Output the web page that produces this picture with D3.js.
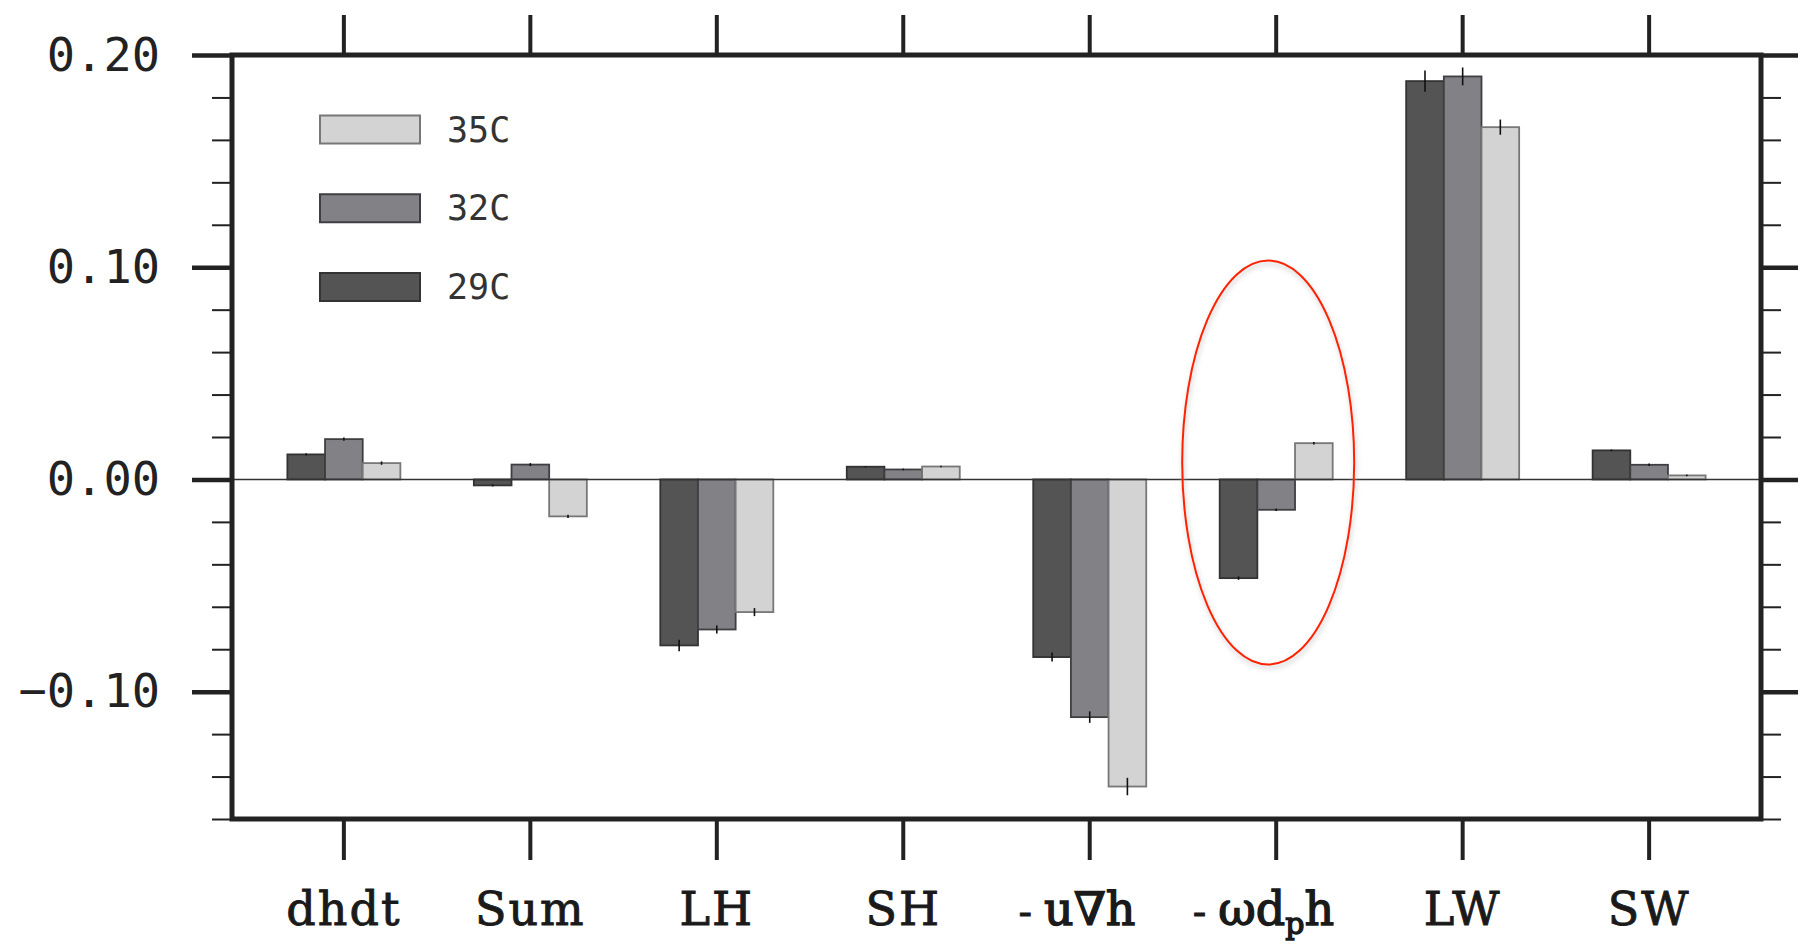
<!DOCTYPE html>
<html>
<head>
<meta charset="utf-8">
<script src="https://cdn.jsdelivr.net/npm/d3@7"></script>
<style>
  html, body { margin: 0; padding: 0; background: #fff; }
  svg { display: block; }
</style>
</head>
<body>
<svg id="chart" width="1803" height="944"></svg>
<script>
// ---- data ----
const categories = ["dhdt", "Sum", "LH", "SH", "-u∇h", "-ωdph", "LW", "SW"];
const seriesNames = ["29C", "32C", "35C"];
const values29 = [0.0118, -0.0028, -0.0782, 0.0060, -0.0837, -0.0465, 0.1877, 0.0137];
const values32 = [0.0190, 0.0070, -0.0707, 0.0047, -0.1120, -0.0143, 0.1899, 0.0069];
const values35 = [0.0077, -0.0174, -0.0625, 0.0061, -0.1447, 0.0171, 0.1660, 0.0019];
const err29 = [0.0005, 0.0005, 0.0027, 0.0003, 0.0021, 0.0008, 0.0050, 0.0004];
const err32 = [0.0008, 0.0007, 0.0019, 0.0004, 0.0027, 0.0006, 0.0042, 0.0006];
const err35 = [0.0008, 0.0008, 0.0019, 0.0004, 0.0041, 0.0006, 0.0036, 0.0004];
const yMajorTicks = [-0.10, 0.00, 0.10, 0.20];
const yMinorTicks = [-0.16, -0.14, -0.12, -0.08, -0.06, -0.04, -0.02, 0.02, 0.04, 0.06, 0.08, 0.12, 0.14, 0.16, 0.18];
const legendOrder = ["35C", "32C", "29C"];

const series = [
  { name: "29C", values: values29, err: err29, fill: "#545454", stroke: "#333333" },
  { name: "32C", values: values32, err: err32, fill: "#828186", stroke: "#3f3f42" },
  { name: "35C", values: values35, err: err35, fill: "#d3d3d3", stroke: "#777777" }
];

// ---- layout ----
const pL = 232, pR = 1761, pT = 55, pB = 819;
const svg = d3.select("#chart");

const x = d3.scaleBand().domain(categories).range([pL, pR])
  .paddingInner(0.394).paddingOuter(0.297);
const xs = d3.scaleBand().domain(seriesNames).range([0, x.bandwidth()]);
const y = d3.scaleLinear().domain([-0.16, 0.20]).range([pB, pT]);

// ---- bars ----
const gBars = svg.append("g");
series.forEach(s => {
  gBars.selectAll(null).data(categories).enter().append("rect")
    .attr("x", c => x(c) + xs(s.name))
    .attr("width", xs.bandwidth())
    .attr("y", (c, i) => y(Math.max(0, s.values[i])))
    .attr("height", (c, i) => Math.abs(y(s.values[i]) - y(0)))
    .attr("fill", s.fill)
    .attr("stroke", s.stroke)
    .attr("stroke-width", 1.8);
});
// error bars
series.forEach(s => {
  gBars.selectAll(null).data(categories).enter().append("line")
    .attr("x1", c => x(c) + xs(s.name) + xs.bandwidth() / 2)
    .attr("x2", c => x(c) + xs(s.name) + xs.bandwidth() / 2)
    .attr("y1", (c, i) => y(s.values[i] - s.err[i]))
    .attr("y2", (c, i) => y(s.values[i] + s.err[i]))
    .attr("stroke", "#111")
    .attr("stroke-width", 1.6);
});

// zero line
svg.append("line")
  .attr("x1", pL).attr("x2", pR)
  .attr("y1", y(0)).attr("y2", y(0))
  .attr("stroke", "#333").attr("stroke-width", 1.6);

// ---- axes ----
const axisStyle = g => {
  g.select(".domain").remove();
  g.selectAll(".tick line").attr("stroke", "#222");
};
// left major
svg.append("g").attr("transform", `translate(${pL},0)`)
  .call(d3.axisLeft(y).tickValues(yMajorTicks).tickSize(40).tickPadding(32).tickFormat(d3.format(".2f")))
  .call(axisStyle)
  .call(g => g.selectAll(".tick line").attr("stroke-width", 4.5))
  .call(g => g.selectAll(".tick text")
    .attr("font-family", "'DejaVu Sans Mono', monospace")
    .attr("font-size", 47).attr("fill", "#222"));
// left minor
svg.append("g").attr("transform", `translate(${pL},0)`)
  .call(d3.axisLeft(y).tickValues(yMinorTicks).tickSize(20).tickFormat(""))
  .call(axisStyle)
  .call(g => g.selectAll(".tick line").attr("stroke-width", 2));
// right major
svg.append("g").attr("transform", `translate(${pR},0)`)
  .call(d3.axisRight(y).tickValues(yMajorTicks).tickSize(37).tickFormat(""))
  .call(axisStyle)
  .call(g => g.selectAll(".tick line").attr("stroke-width", 4.5));
// right minor
svg.append("g").attr("transform", `translate(${pR},0)`)
  .call(d3.axisRight(y).tickValues(yMinorTicks).tickSize(20).tickFormat(""))
  .call(axisStyle)
  .call(g => g.selectAll(".tick line").attr("stroke-width", 2));
// top ticks
svg.append("g").attr("transform", `translate(0,${pT})`)
  .call(d3.axisTop(x).tickSize(40).tickFormat(""))
  .call(axisStyle)
  .call(g => g.selectAll(".tick line").attr("stroke-width", 4));
// bottom ticks
svg.append("g").attr("transform", `translate(0,${pB})`)
  .call(d3.axisBottom(x).tickSize(41).tickFormat(""))
  .call(axisStyle)
  .call(g => g.selectAll(".tick line").attr("stroke-width", 4));

// frame
svg.append("rect")
  .attr("x", pL).attr("y", pT)
  .attr("width", pR - pL).attr("height", pB - pT)
  .attr("fill", "none").attr("stroke", "#222").attr("stroke-width", 5);

// ---- x labels ----
const labelFont = "'DejaVu Serif', serif";
const gLab = svg.append("g")
  .attr("font-family", labelFont).attr("font-size", 46).attr("fill", "#1a1a1a")
  .attr("stroke", "#1a1a1a").attr("stroke-width", 0.9);
categories.forEach(c => {
  const cx = x(c) + x.bandwidth() / 2;
  const t = gLab.append("text").attr("x", cx).attr("y", 925).attr("text-anchor", "middle");
  let prefix = false;
  if (c === "-u∇h") {
    prefix = true;
    t.text("u∇h").attr("stroke-width", 1.4);
  } else if (c === "-ωdph") {
    prefix = true;
    t.attr("stroke-width", 1.4);
    t.append("tspan").text("ωd");
    t.append("tspan").text("p").attr("font-size", 30).attr("dy", 9);
    t.append("tspan").text("h").attr("dy", -9);
  } else {
    t.text(c).attr("letter-spacing", 2);
  }
  if (prefix) {
    const bb = t.node().getBBox();
    gLab.append("text").attr("x", bb.x - 12).attr("y", 925)
      .attr("text-anchor", "end").attr("font-size", 40).text("-");
  }
});

// ---- legend ----
const legendY = d3.scalePoint().domain(legendOrder).range([129.5, 287]);
const gLeg = svg.append("g");
legendOrder.forEach(n => {
  const s = series.find(d => d.name === n);
  gLeg.append("rect")
    .attr("x", 320).attr("y", legendY(n) - 14)
    .attr("width", 100).attr("height", 28)
    .attr("fill", s.fill).attr("stroke", s.stroke).attr("stroke-width", 2);
  gLeg.append("text")
    .attr("x", 447).attr("y", legendY(n))
    .attr("dominant-baseline", "central")
    .attr("font-family", "'DejaVu Sans Mono', monospace")
    .attr("font-size", 35).attr("fill", "#333")
    .text(n);
});

// ---- red ellipse highlight around -ωdph ----
const hc = "-ωdph";
const ecx = x(hc) + x.bandwidth() / 2 - 8;
const defs = svg.append("defs");
const f = defs.append("filter").attr("id", "sh").attr("x", "-20%").attr("y", "-20%").attr("width", "140%").attr("height", "140%");
f.append("feGaussianBlur").attr("stdDeviation", 2.5);
svg.append("ellipse")
  .attr("cx", ecx + 1).attr("cy", y(0.008) + 3).attr("rx", 86).attr("ry", 202)
  .attr("fill", "none").attr("stroke", "#bbb").attr("stroke-width", 3).attr("opacity", 0.6)
  .attr("filter", "url(#sh)");
svg.append("ellipse")
  .attr("cx", ecx).attr("cy", y(0.008)).attr("rx", 86).attr("ry", 202)
  .attr("fill", "none").attr("stroke", "#ff2200").attr("stroke-width", 2);
</script>
</body>
</html>
